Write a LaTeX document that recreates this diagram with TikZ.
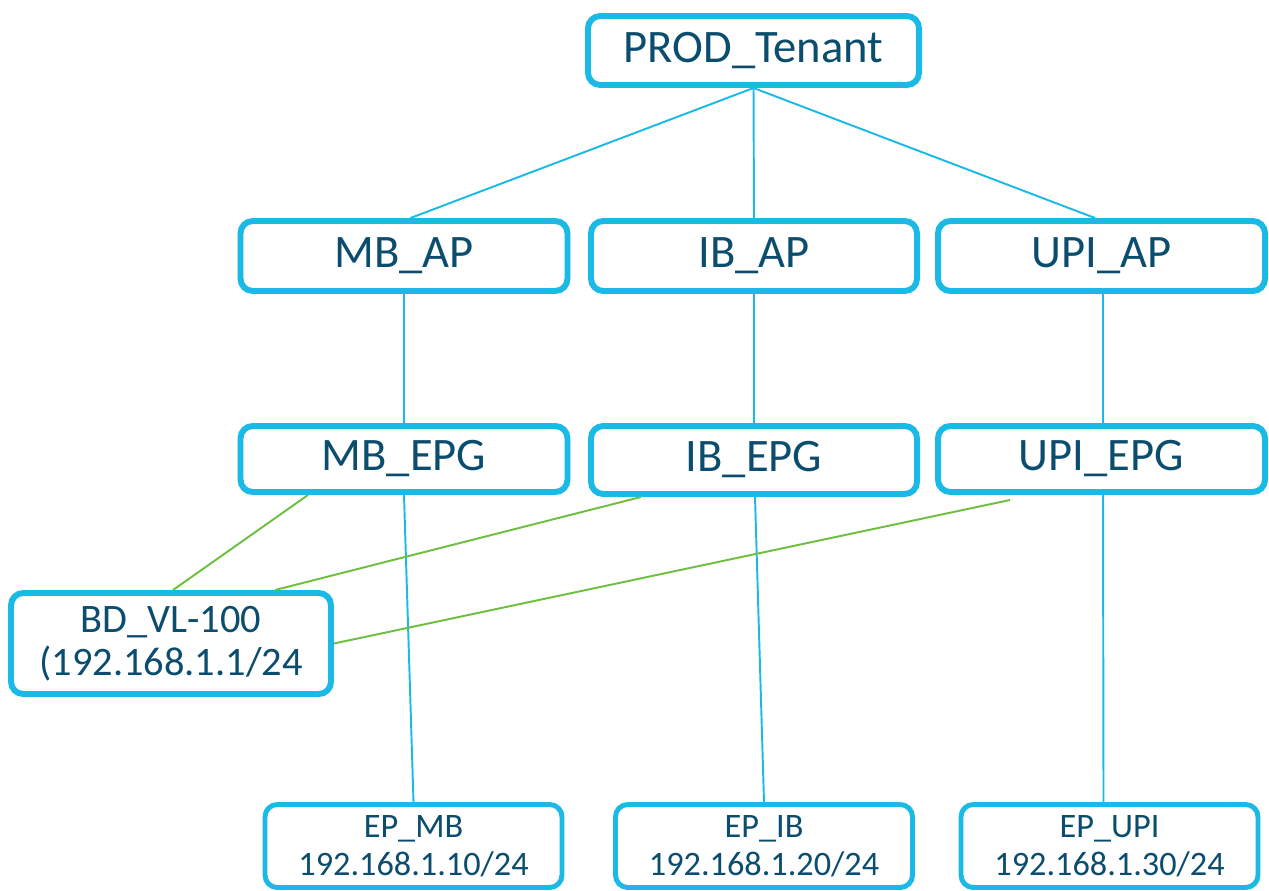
\documentclass[tikz,border=0pt]{standalone}
\usepackage{fontspec}
\setmainfont{Carlito}
\definecolor{boxline}{HTML}{1AB9E6}
\definecolor{boxtext}{HTML}{0B4D6E}
\definecolor{bdlink}{HTML}{6CBF3F}
\usetikzlibrary{calc}

\begin{document}
\begin{tikzpicture}[
    box/.style={draw=boxline, line width=3.4pt, rounded corners=7pt, fill=white,
                text=boxtext, align=center, inner sep=0pt,
                minimum width=6.54cm, minimum height=1.40cm,
                font=\fontsize{26.5}{30}\selectfont},
    bdbox/.style={box, minimum width=6.40cm, minimum height=2.02cm,
                font=\fontsize{23}{24.5}\selectfont},
    epbox/.style={box, line width=2.8pt, minimum width=5.94cm, minimum height=1.66cm,
                font=\fontsize{19.5}{21.5}\selectfont},
    link/.style={draw=boxline, line width=1.1pt},
    bdlink/.style={draw=bdlink, line width=1.1pt}]

  \useasboundingbox (0,0) rectangle (25.38,17.8);

  \node[box, minimum width=6.62cm, minimum height=1.38cm] (tenant) at (15.07,16.79) {PROD\_Tenant};

  \node[box] (mbap) at (8.08,12.68) {MB\_AP};
  \node[box, minimum width=6.52cm] (ibap) at (15.08,12.68) {IB\_AP};
  \node[box] (upiap) at (22.03,12.68) {UPI\_AP};

  \node[box, minimum height=1.32cm] (mbepg) at (8.08,8.62) {MB\_EPG};
  \node[box, minimum width=6.52cm, minimum height=1.36cm] (ibepg) at (15.08,8.60) {IB\_EPG};
  \node[box, minimum height=1.32cm] (upiepg) at (22.03,8.62) {UPI\_EPG};

  \node[bdbox] (bd) at (3.42,4.93) {BD\_VL-100\\(192.168.1.1/24};

  \node[epbox] (epmb) at (8.27,0.88) {EP\_MB\\192.168.1.10/24};
  \node[epbox] (epib) at (15.28,0.88) {EP\_IB\\192.168.1.20/24};
  \node[epbox] (epupi) at (22.19,0.88) {EP\_UPI\\192.168.1.30/24};

  \draw[link] (tenant.south) -- ($(mbap.north)+(0.13,0)$);
  \draw[link] (tenant.south) -- (ibap.north);
  \draw[link] (tenant.south) -- ($(upiap.north)+(-0.13,0)$);

  \draw[link] (mbap) -- (mbepg);
  \draw[link] (ibap) -- (ibepg);
  \draw[link] ($(upiap.south)+(0.03,0)$) -- ($(upiepg.north)+(0.03,0)$);

  \draw[link] (mbepg.south) -- (epmb.north);
  \draw[link] ($(ibepg.south)+(0.02,0)$) -- (epib.north);
  \draw[link] ($(upiepg.south)+(0.03,0)$) -- ($(epupi.north)+(-0.12,0)$);

  \draw[bdlink] ($(mbepg.south)+(-1.92,0)$) -- ($(bd.north)+(0.04,0)$);
  \draw[bdlink] ($(ibepg.south)+(-2.26,0)$) -- ($(bd.north)+(2.08,0)$);
  \draw[bdlink] ($(upiepg.south)+(-1.83,-0.1)$) -- (bd.east);
\end{tikzpicture}
\end{document}
